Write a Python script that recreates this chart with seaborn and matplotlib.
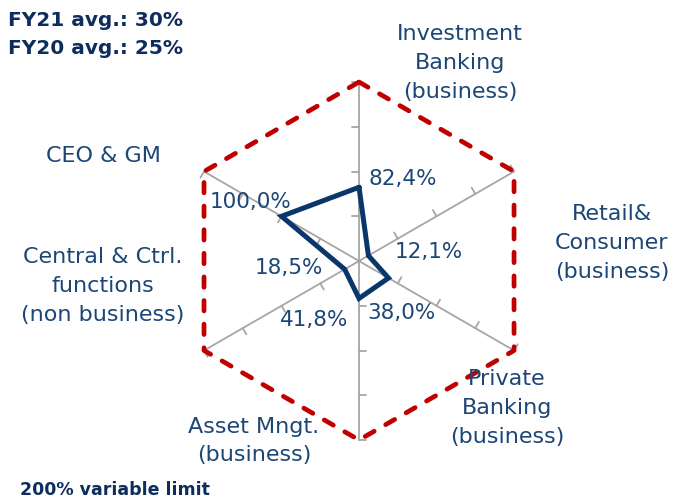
import numpy as np
import pandas as pd
import matplotlib
matplotlib.use('Agg')
import matplotlib.pyplot as plt
import seaborn as sns

# data, clockwise from the top
categories = ['Investment\nBanking\n(business)', 'Retail&\nConsumer\n(business)',
              'Private\nBanking\n(business)', 'Asset Mngt.\n(business)',
              'Central & Ctrl.\nfunctions\n(non business)', 'CEO & GM']
values = [82.4, 12.1, 38.0, 41.8, 18.5, 100.0]
value_labels = ['82,4%', '12,1%', '38,0%', '41,8%', '18,5%', '100,0%']
limit = 200
axis_ticks = [50, 100, 150, 200]

TEXT = '#1B4676'
NAVY = '#0A376B'
RED = '#C00000'
GREY = '#A6A6A6'

sns.set_style('white')
plt.rcParams['font.family'] = ['DejaVu Sans']

fig = plt.figure(figsize=(6.75, 5.02), dpi=100)
ax = fig.add_axes([0.2667, 0.1215, 0.5304, 0.7131], projection='polar')
ax.set_theta_zero_location('N')
ax.set_theta_direction(-1)
ax.set_ylim(0, limit)

n = len(categories)
angles = np.arange(n) * 2 * np.pi / n
closed = np.append(angles, 2 * np.pi)

# spokes
for a in angles:
    ax.plot([a, a], [0, limit], color=GREY, lw=1.3, zorder=1, clip_on=False)
    # small tick marks on the counter-clockwise side of each spoke
    L = 8.0
    for r in axis_ticks:
        ax.plot([a, a - np.arctan(L / r)], [r, np.hypot(r, L)],
                color=GREY, lw=1.3, zorder=1, clip_on=False)

# 200% limit hexagon
ax.plot(closed, [limit] * (n + 1), color=RED, lw=3.4, linestyle=(0, (2.2, 2.8)),
        dash_capstyle='round', zorder=2, clip_on=False)

# actual values (closed polygon)
df = pd.DataFrame({'angle': closed, 'value': values + values[:1]})
sns.lineplot(data=df, x='angle', y='value', sort=False, estimator=None,
             color=NAVY, lw=3.6, ax=ax, zorder=3)
for line in ax.lines[-1:]:
    line.set_solid_joinstyle('miter')

offsets = [(7, 6.5), (19, 3), (-15, -24.5), (-32, -15), (-40, 1.5), (-22, 11)]
has = ['left', 'left', 'left', 'center', 'center', 'center']
for a, v, lab, off, ha in zip(angles, values, value_labels, offsets, has):
    ax.annotate(lab, (a, v), xytext=off, textcoords='offset points',
                ha=ha, va='center', fontsize=15.5, color=TEXT)

ax.set_xticks([])
ax.set_yticks([])
ax.grid(False)
ax.spines['polar'].set_visible(False)
ax.set_xlabel('')
ax.set_ylabel('')
ax.patch.set_alpha(0)

# category labels
W, H = 675, 502
label_pos = [(460, 63), (612, 243), (507, 408), (254, 441), (103, 286), (103, 156)]
for lab, (px, py) in zip(categories, label_pos):
    fig.text(px / W, 1 - py / H, lab, ha='center', va='center',
             fontsize=16, color=TEXT, linespacing=1.55)

fig.text(8 / W, 1 - 20 / H, 'FY21 avg.: 30%', fontsize=14.5, fontweight='bold',
         color='#0D2D5C', va='center')
fig.text(8 / W, 1 - 48 / H, 'FY20 avg.: 25%', fontsize=14.5, fontweight='bold',
         color='#0D2D5C', va='center')
fig.text(20 / W, 1 - 490 / H, '200% variable limit', fontsize=12.5, fontweight='bold',
         color='#0D2D5C', va='center')

fig.savefig('out.png', dpi=100)
